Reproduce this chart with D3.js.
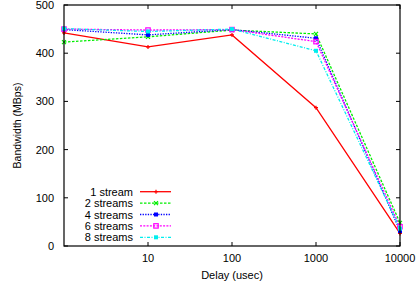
<!DOCTYPE html>
<head>
<meta charset='utf-8'>
<style>
  body { margin: 0; background: #fff; font-family: 'Liberation Sans', Arial, sans-serif; }
  text { font-size: 11px; fill: #000; }
</style>
</head>
<body>
<div id='vis'></div>
<script src='https://d3js.org/d3.v7.min.js'></script>
<script>
  const delays = [1, 10, 100, 1000, 10000]
  const seriesNames = ['1 stream', '2 streams', '4 streams', '6 streams', '8 streams']
  const oneStream = [442, 413, 438, 287, 26]
  const twoStreams = [423, 434, 448, 440, 48]
  const fourStreams = [449, 438, 449, 431, 31]
  const sixStreams = [450, 448, 449, 424, 40]
  const eightStreams = [451, 445, 450, 405, 36]
  const xTicks = [10, 100, 1000, 10000]
  const yTicks = [0, 100, 200, 300, 400, 500]

  const colors = ['#ff0000', '#00ee00', '#0000ff', '#ff00ff', '#00eeee']
  const dashes = [null, '2.5,1.5', '1.3,1.3', '2,1.3', '3,1.5,1,1.5']
  const markers = ['plus', 'cross', 'sq', 'osq', 'sq']
  const series = [oneStream, twoStreams, fourStreams, sixStreams, eightStreams]

  const W = 418, H = 288
  const m = {left: 64, right: 18, top: 5, bottom: 42}

  const x = d3.scaleLog().domain([1, 10000]).range([m.left, W - m.right])
  const y = d3.scaleLinear().domain([0, 500]).range([H - m.bottom, m.top])

  const svg = d3.select('#vis').append('svg').attr('width', W).attr('height', H)

  // 刻度 (inward, mirrored)
  const tl = 4
  const g = svg.append('g').attr('stroke', '#000').attr('stroke-width', 1)
  xTicks.forEach(t => {
    g.append('line').attr('x1', x(t)).attr('x2', x(t)).attr('y1', y(0)).attr('y2', y(0) - tl)
    g.append('line').attr('x1', x(t)).attr('x2', x(t)).attr('y1', y(500)).attr('y2', y(500) + tl)
  })
  yTicks.forEach(t => {
    g.append('line').attr('x1', x(1)).attr('x2', x(1) + tl).attr('y1', y(t)).attr('y2', y(t))
    g.append('line').attr('x1', x(10000)).attr('x2', x(10000) - tl).attr('y1', y(t)).attr('y2', y(t))
  })

  svg.selectAll('.xt').data(xTicks).enter().append('text')
    .attr('x', d => x(d)).attr('y', y(0) + 16).attr('text-anchor', 'middle').text(d => d)
  svg.selectAll('.yt').data(yTicks).enter().append('text')
    .attr('x', m.left - 10).attr('y', d => y(d) + 4).attr('text-anchor', 'end').text(d => d)

  svg.append('text').attr('x', (x(1) + x(10000)) / 2).attr('y', H - 9)
    .attr('text-anchor', 'middle').text('Delay (usec)')
  svg.append('text').attr('transform', `translate(21,${(y(0) + y(500)) / 2}) rotate(-90)`)
    .attr('text-anchor', 'middle').style('font-size', '10.5px').text('Bandwidth (MBps)')

  function drawMarker(sel, type, cx, cy, c) {
    if (type === 'plus') {
      sel.append('path').attr('d', `M${cx - 2},${cy}H${cx + 2}M${cx},${cy - 2}V${cy + 2}`)
        .attr('stroke', c).attr('fill', 'none').attr('stroke-width', 1.2)
    } else if (type === 'cross') {
      sel.append('path').attr('d', `M${cx - 2},${cy - 2}L${cx + 2},${cy + 2}M${cx - 2},${cy + 2}L${cx + 2},${cy - 2}`)
        .attr('stroke', c).attr('fill', 'none').attr('stroke-width', 1.2)
    } else if (type === 'sq') {
      sel.append('rect').attr('x', cx - 2).attr('y', cy - 2).attr('width', 4).attr('height', 4).attr('fill', c)
    } else {
      sel.append('rect').attr('x', cx - 2.2).attr('y', cy - 2.2).attr('width', 4.4).attr('height', 4.4)
        .attr('fill', 'none').attr('stroke', c).attr('stroke-width', 1.2)
    }
  }

  const line = d3.line().x((d, i) => x(delays[i])).y(d => y(d))
  const plot = svg.append('g')
  series.forEach((vals, k) => {
    plot.append('path').attr('d', line(vals)).attr('fill', 'none')
      .attr('stroke', colors[k]).attr('stroke-width', 1.3)
      .attr('stroke-dasharray', dashes[k])
    vals.forEach((v, i) => drawMarker(plot, markers[k], x(delays[i]), y(v), colors[k]))
  })

  // 图例
  const leg = svg.append('g')
  seriesNames.forEach((n, k) => {
    const ly = 191.7 + k * 11.4
    leg.append('text').attr('x', 133).attr('y', ly + 4).attr('text-anchor', 'end').text(n)
    leg.append('line').attr('x1', 140).attr('x2', 171).attr('y1', ly).attr('y2', ly)
      .attr('stroke', colors[k]).attr('stroke-width', 1.3).attr('stroke-dasharray', dashes[k])
    drawMarker(leg, markers[k], 156, ly, colors[k])
  })

  svg.append('rect').attr('x', x(1)).attr('y', y(500))
    .attr('width', x(10000) - x(1)).attr('height', y(0) - y(500))
    .attr('fill', 'none').attr('stroke', '#000').attr('stroke-width', 1.2)
</script>
</body>
